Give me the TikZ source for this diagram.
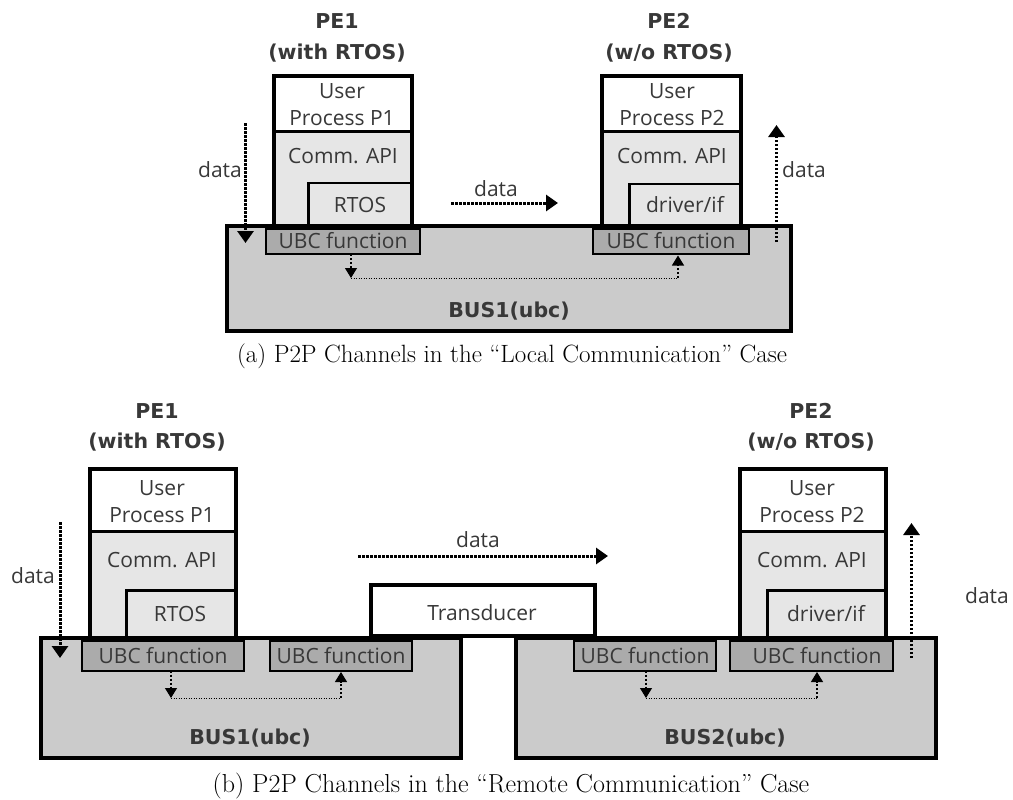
\documentclass[tikz,border=0pt]{standalone}
\usepackage{fontspec}
\setmainfont{Open Sans}
\newfontfamily\headfont{DejaVu Sans}
\newfontfamily\capfont{Latin Modern Roman}
\usetikzlibrary{arrows.meta}

\definecolor{busgray}{HTML}{CBCBCB}
\definecolor{ubcgray}{HTML}{ABABAB}
\definecolor{apigray}{HTML}{E6E6E6}
\definecolor{ink}{HTML}{383838}

% rectangle node given by its corners: name, style, x1, y1, x2, y2
\newcommand\cellbox[6]{%
  \node[#2, inner sep=0pt, outer sep=0pt,
        minimum width={#5-#3}, minimum height={#6-#4}]
        (#1) at ({(#3+#5)/2},{(#4+#6)/2}) {};}

% processing element: name, x1, y1, x2, y2, divider y, inner-box x, inner-box y
\newcommand\pebox[8]{%
  \cellbox{#1}{fill=apigray}{#2}{#3}{#4}{#5}
  \cellbox{#1-usr}{fill=white}{#2}{#3}{#4}{#6}
  \draw[line width=2.5pt] (#1-usr.south west) -- (#1-usr.south east);
  \cellbox{#1-os}{osbox}{#7}{#8}{#4}{#5}
  \draw[pe] (#1.north west) rectangle (#1.south east);}

\begin{document}
\begin{tikzpicture}[x=1pt, y=-1pt,
  txt/.style={font=\fontsize{21}{26.7}\selectfont, text=ink, inner sep=0pt,
              anchor=base, align=center},
  head/.style={font=\headfont\bfseries\fontsize{20.5}{30}\selectfont, text=ink,
               inner sep=0pt, anchor=base},
  bus/.style={draw=black, line width=4pt, fill=busgray},
  pe/.style={draw=black, line width=4pt},
  ubc/.style={draw=black, line width=2pt, fill=ubcgray},
  osbox/.style={draw=black, line width=2.5pt, fill=apigray},
  flow/.style={line width=3pt, dash pattern=on 2.5pt off 1.5pt,
               -{Triangle[width=16pt,length=12pt]}},
  link/.style={line width=1pt, dash pattern=on 1pt off 1.5pt},
  linkarrow/.style={line width=1.2pt, dash pattern=on 2pt off 2pt,
                    -{Triangle[width=12pt,length=10pt]}},
  caption/.style={font=\capfont\fontsize{25}{30}\selectfont, text=black,
                  inner sep=0pt, anchor=base}]
\useasboundingbox (0,0) rectangle (1013,800);

% ---------------- (a) local communication ----------------
\cellbox{busA}{bus}{227}{226}{791}{331}
\pebox{peA1}{274}{76}{412}{226}{131.5}{308.5}{183}
\pebox{peA2}{602}{76}{741}{226}{131.5}{629.5}{184}
\cellbox{ubcA1}{ubc}{266}{229}{420}{254}
\cellbox{ubcA2}{ubc}{593}{229}{748.5}{254}

\node[head] (peA1h1) at (337,29) {PE1};
\node[head] (peA1h2) at (337,60) {(with RTOS)};
\node[head] (peA2h1) at (669,29) {PE2};
\node[head] (peA2h2) at (669,60) {(w/o RTOS)};

% two-line labels: the base anchor sits on the last line
\node[txt] (peA1u) at (342,125) {User\\Process P1};
\node[txt] (peA1c) at (343,163) {Comm. API};
\node[txt] (peA1r) at (360,212) {RTOS};
\node[txt] (ubcA1t) at (343,248) {UBC function};
\node[txt] (peA2u) at (672,125) {User\\Process P2};
\node[txt] (peA2c) at (672,163) {Comm. API};
\node[txt] (peA2d) at (685,212) {driver/if};
\node[txt] (ubcA2t) at (671,248) {UBC function};
\node[head] (busAt) at (509,317) {BUS1(ubc)};

\node[txt] (dA1) at (220,177) {data};
\node[txt] (dA2) at (496,196) {data};
\node[txt, anchor=base west] (dA3) at (782,177) {data};

\coordinate (fA1s) at (245.5,123);  \coordinate (fA1e) at (245.5,243);
\coordinate (fA2s) at (451,203);    \coordinate (fA2e) at (558,203);
\coordinate (fA3s) at (776.5,242);  \coordinate (fA3e) at (776.5,125);
\draw[flow] (fA1s) -- (fA1e);
\draw[flow] (fA2s) -- (fA2e);
\draw[flow] (fA3s) -- (fA3e);

\coordinate (kA1) at (351,278);
\coordinate (kA2) at (678,278);
\draw[linkarrow] (ubcA1.south -| kA1) -- (kA1);
\draw[link] (kA1) -- (kA2);
\draw[linkarrow] (kA2) -- ([yshift=-1.5pt]ubcA2.south -| kA2);

\node[caption] (capA) at (512,362) {(a) P2P Channels in the “Local Communication” Case};

% ---------------- (b) remote communication ----------------
\cellbox{trans}{draw=black, line width=4pt, fill=white}{370.5}{585}{594.5}{636}
\cellbox{busB1}{bus}{40.5}{638}{460.5}{758}
\cellbox{busB2}{bus}{515.5}{638}{936}{758}
\pebox{peB1}{90}{469}{235.5}{638}{531.5}{126.5}{590.5}
\pebox{peB2}{739.5}{469}{886}{638}{531.5}{767.5}{590.5}
\cellbox{ubcB1}{ubc}{82}{641}{244}{670.5}
\cellbox{ubcB2}{ubc}{270}{641}{412}{670.5}
\cellbox{ubcB3}{ubc}{574}{641}{716}{670.5}
\cellbox{ubcB4}{ubc}{730}{641}{893}{670.5}

\node[head] (peB1h1) at (157,418) {PE1};
\node[head] (peB1h2) at (157,448) {(with RTOS)};
\node[head] (peB2h1) at (811,418) {PE2};
\node[head] (peB2h2) at (811,448) {(w/o RTOS)};

\node[txt] (peB1u) at (162,522) {User\\Process P1};
\node[txt] (peB1c) at (162,567) {Comm. API};
\node[txt] (peB1r) at (180,621) {RTOS};
\node[txt] (peB2u) at (812,522) {User\\Process P2};
\node[txt] (peB2c) at (812,567) {Comm. API};
\node[txt] (peB2d) at (826,621) {driver/if};
\node[txt] (ubcB1t) at (163,663) {UBC function};
\node[txt] (ubcB2t) at (341,663) {UBC function};
\node[txt] (ubcB3t) at (645,663) {UBC function};
\node[txt] (ubcB4t) at (817,663) {UBC function};
\node[txt] (transt) at (482,620) {Transducer};
\node[head] (busB1t) at (250,744) {BUS1(ubc)};
\node[head] (busB2t) at (725,744) {BUS2(ubc)};

\node[txt] (dB1) at (33,583) {data};
\node[txt] (dB2) at (478,547) {data};
\node[txt] (dB3) at (987,603) {data};

\coordinate (fB1s) at (60,522);     \coordinate (fB1e) at (60,658);
\coordinate (fB2s) at (358,556);    \coordinate (fB2e) at (608,556);
\coordinate (fB3s) at (911.5,658);  \coordinate (fB3e) at (911.5,523);
\draw[flow] (fB1s) -- (fB1e);
\draw[flow] (fB2s) -- (fB2e);
\draw[flow] (fB3s) -- (fB3e);

\coordinate (kB1) at (171,698);
\coordinate (kB2) at (341,698);
\draw[linkarrow] (ubcB1.south -| kB1) -- (kB1);
\draw[link] (kB1) -- (kB2);
\draw[linkarrow] (kB2) -- ([yshift=-1.5pt]ubcB2.south -| kB2);

\coordinate (kB3) at (646,698);
\coordinate (kB4) at (817,698);
\draw[linkarrow] (ubcB3.south -| kB3) -- (kB3);
\draw[link] (kB3) -- (kB4);
\draw[linkarrow] (kB4) -- ([yshift=-1.5pt]ubcB4.south -| kB4);

\node[caption, font=\capfont\fontsize{26}{31}\selectfont] (capB) at (511,792)
  {(b) P2P Channels in the “Remote Communication” Case};
\end{tikzpicture}
\end{document}
